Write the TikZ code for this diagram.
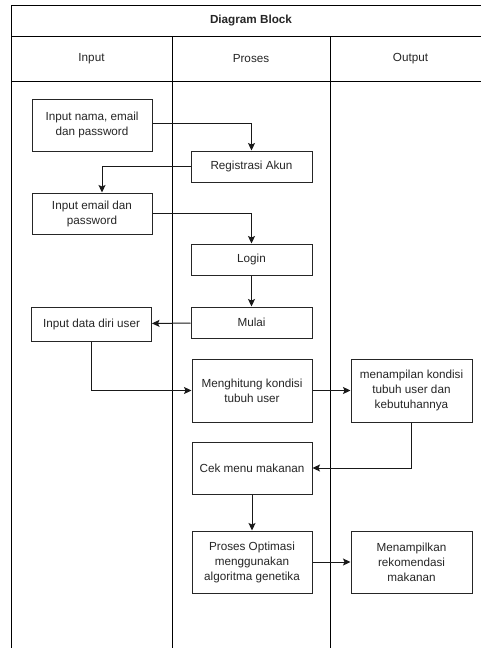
\documentclass[tikz,border=0pt]{standalone}
\usepackage{fontspec}
\setmainfont{Liberation Sans}
\usetikzlibrary{arrows.meta}
\tikzset{
  px/.style={x=1pt,y=-1pt},
  box/.style={draw=black!85, line width=1pt, fill=white, align=center, inner sep=2pt,
    font=\fontsize{11.7}{15}\selectfont, text=black!85},
  grid/.style={draw=black, line width=1pt},
  conn/.style={draw=black!90, line width=1pt, -{Stealth[length=7.5pt,width=7pt,inset=1.5pt]}},
  head/.style={font=\fontsize{11.7}{15}\selectfont, text=black!85},
}
\begin{document}
\begin{tikzpicture}[px]
\useasboundingbox (0,0) rectangle (481,648);
\clip (0,0) rectangle (481,648);
\fill[white] (0,0) rectangle (481,648);
% table
\draw[grid] (11,648) -- (11,5) -- (491,5) -- (491,648);
\draw[grid] (11,36) -- (491,36);
\draw[grid] (11,81) -- (491,81);
\draw[grid] (172,36) -- (172,648);
\draw[grid] (330,36) -- (330,648);
\node[head, font=\fontsize{11.7}{15}\selectfont\bfseries] (title) at (251,20.5) {Diagram Block};
\node[head] (hin) at (91.5,58.5) {Input};
\node[head] (hpr) at (251,58.5) {Proses};
\node[head] (hout) at (410.5,58.5) {Output};
% boxes
\node[box, minimum width=120pt, minimum height=52pt] (n1) at (92,125) {Input nama, email\\dan password};
\node[box, minimum width=121pt, minimum height=31pt] (reg) at (251.5,166.5) {Registrasi Akun};
\node[box, minimum width=120pt, minimum height=41pt] (n2) at (92,213.5) {Input email dan\\password};
\node[box, minimum width=121pt, minimum height=31pt] (login) at (251.5,259.5) {Login};
\node[box, minimum width=121pt, minimum height=31pt] (mulai) at (251.5,322.5) {Mulai};
\node[box, minimum width=120pt, minimum height=34pt] (n3) at (91.5,324) {Input data diri user};
\node[box, minimum width=120pt, minimum height=63pt] (hitung) at (252,390.5) {Menghitung kondisi\\tubuh user};
\node[box, minimum width=121pt, minimum height=63pt] (tampil) at (411.5,390.5) {menampilan kondisi\\tubuh user dan\\kebutuhannya};
\node[box, minimum width=120pt, minimum height=52pt] (cek) at (252,468) {Cek menu makanan};
\node[box, minimum width=120pt, minimum height=62pt] (optim) at (252,562) {Proses Optimasi\\menggunakan\\algoritma genetika};
\node[box, minimum width=121pt, minimum height=62pt] (rekom) at (411.5,562) {Menampilkan\\rekomendasi\\makanan};
% connectors
\draw[conn] (n1.east |- 0,123) -| (reg.north);
\coordinate (n2top) at (102,0);
\draw[conn] (reg.west) -| (n2top |- n2.north);
\draw[conn] (n2.east |- 0,213) -| (login.north);
\draw[conn] (login) -- (mulai);
\draw[conn] (mulai) -- (n3);
\draw[conn] (n3.south) |- (hitung.west);
\draw[conn] (hitung) -- (tampil);
\draw[conn] (tampil.south) |- (cek.east);
\draw[conn] (cek) -- (optim);
\draw[conn] (optim) -- (rekom);
\end{tikzpicture}
\end{document}
